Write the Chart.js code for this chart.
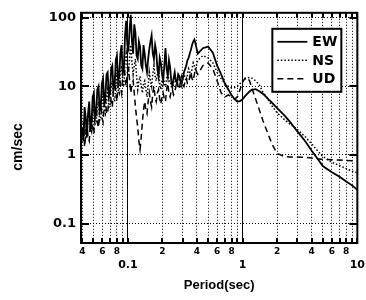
<!DOCTYPE html>
<html>
<head>
<meta charset="utf-8">
<script src="https://cdn.jsdelivr.net/npm/chart.js@4.4.0/dist/chart.umd.min.js"></script>
<style>
  html, body { margin: 0; padding: 0; background: #fff; }
</style>
</head>
<body>
<canvas id="spectrum" width="366" height="300"></canvas>
<script>
// Periods (sec) shared by the three components
const periods = [
  0.04, 0.041, 0.0419, 0.0429, 0.0439, 0.0449, 0.046, 0.0471, 0.0482, 0.0493,
  0.0505, 0.0517, 0.0529, 0.0541, 0.0554, 0.0567, 0.058, 0.0593, 0.0607, 0.0621,
  0.0636, 0.0651, 0.0666, 0.0682, 0.0698, 0.0714, 0.0731, 0.0748, 0.0766, 0.0784,
  0.0802, 0.0821, 0.084, 0.086, 0.088, 0.0901, 0.0922, 0.0944, 0.0966, 0.0989,
  0.1012, 0.1036, 0.106, 0.1085, 0.111, 0.1136, 0.1163, 0.119, 0.1218, 0.1247,
  0.1276, 0.1306, 0.1337, 0.1368, 0.14, 0.1433, 0.1467, 0.1501, 0.1536, 0.1572,
  0.1609, 0.1647, 0.1686, 0.1726, 0.1766, 0.1808, 0.185, 0.1893, 0.1937, 0.1982,
  0.2029, 0.2077, 0.2126, 0.2176, 0.2227, 0.2279, 0.2332, 0.2387, 0.2443, 0.25,
  0.2559, 0.2619, 0.2681, 0.2744, 0.2808, 0.2874, 0.2941, 0.301, 0.3081, 0.3153,
  0.3228, 0.3304, 0.3381, 0.346, 0.3541, 0.3624, 0.371, 0.3797, 0.3886, 0.3977,
  0.407,
  0.45, 0.5, 0.55, 0.6, 0.65, 0.7, 0.75, 0.8, 0.85,
  0.9, 0.95, 1.0, 1.05, 1.1, 1.15, 1.2, 1.3, 1.4, 1.5,
  1.6, 1.8, 2.0, 2.3, 2.6, 3.0, 3.5, 4.0, 4.5, 5.0,
  6.0, 7.0, 8.0, 9.0, 10
];

// Velocity response (cm/sec)
const ew = [
  2.5, 1.6, 5, 3.5, 1.8, 4, 6, 2.2, 3, 7,
  8, 3.5, 4, 9, 10, 4.5, 5, 11, 13, 6,
  7, 15, 16, 7, 8, 18, 20, 9, 10, 24,
  28, 12, 14, 30, 40, 16, 18, 55, 90, 40,
  35, 70, 110, 45, 30, 80, 60, 28, 25, 45,
  38, 20, 18, 40, 30, 20, 16, 25, 35, 45,
  55, 30, 25, 40, 32, 18, 14, 26, 22, 15,
  12, 20, 36, 18, 14, 24, 19, 12, 10, 13,
  16, 12, 11, 15, 14, 12, 11, 13, 16, 18,
  20, 24, 26, 30, 34, 40, 45, 48, 42, 35,
  30,
  36, 38, 31, 20, 15, 11, 9, 7.5, 6.5,
  6, 6.1, 6.5, 7.2, 7.8, 8.4, 8.9, 9.1, 8.5, 7.8,
  7, 5.8, 4.8, 3.8, 3, 2.2, 1.6, 1.15, 0.88, 0.69,
  0.56, 0.48, 0.41, 0.36, 0.31
];
const ns = [
  1.5, 2.5, 3, 1.8, 2, 3.5, 4, 2.5, 2.2, 4,
  5, 2.8, 3, 5, 6, 3.2, 3.5, 7, 8, 4.5,
  4, 7, 9, 5, 5, 10, 12, 7, 6, 11,
  14, 9, 8, 16, 20, 12, 10, 22, 30, 18,
  14, 28, 40, 22, 15, 20, 25, 14, 9, 12,
  14, 10, 8, 11, 12, 9, 7, 10, 16, 12,
  10, 15, 20, 14, 12, 15, 18, 11, 9, 12,
  14, 11, 10, 13, 15, 12, 12, 10, 9, 11,
  14, 12, 11, 14, 13, 11, 10, 13, 15, 13,
  12, 15, 18, 16, 14, 18, 22, 20, 17, 21,
  24,
  28, 26, 22, 16, 13, 11, 10, 9.5, 9.6,
  10, 11, 12, 12.8, 13.3, 13.5, 13.2, 12, 10.5, 8.3,
  7.2, 5.2, 4.1, 3.3, 2.8, 2.35, 1.85, 1.45, 1.15, 0.95,
  0.78, 0.7, 0.63, 0.58, 0.55
];
const ud = [
  2, 3, 1.3, 2, 3, 1.8, 1.6, 3, 4, 2.5,
  2, 4, 5, 3, 2.5, 4.5, 6, 3.5, 3, 5,
  7, 4, 4, 7, 9, 6, 5, 9, 12, 8,
  6, 10, 15, 10, 8, 14, 22, 14, 10, 16,
  18, 12, 8, 11, 12, 8, 5, 3.5, 2.5, 1.6,
  1.2, 1.8, 3, 4.5, 6, 4.5, 4, 6, 8, 6,
  5, 8, 10, 7, 6, 8, 9, 6.5, 5.5, 7,
  8, 6.5, 6, 9, 11, 8, 7, 8.5, 9, 7.5,
  8, 10, 12, 10, 9, 12, 14, 11, 10, 12,
  13, 11, 11, 14, 16, 13, 12, 15, 18, 16,
  15,
  20, 22, 18, 12, 8, 7, 7.5, 7, 6.5,
  7, 9, 11.5, 13.2, 13.5, 12, 9.5, 6.5, 4.5, 3.2,
  2.4, 1.45, 1.05, 0.95, 0.93, 0.93, 0.92, 0.9, 0.88, 0.86,
  0.85, 0.84, 0.83, 0.82, 0.82
];

// Axis ticks and labels
const xGrid = [0.04, 0.05, 0.06, 0.07, 0.08, 0.09, 0.1, 0.2, 0.3, 0.4, 0.5, 0.6, 0.7, 0.8, 0.9,
  1, 2, 3, 4, 5, 6, 7, 8, 9, 10];
const xMinorLabels = ['4', '', '6', '', '8', '', '', '2', '', '4', '', '6', '', '8', '',
  '', '2', '', '4', '', '6', '', '8', '', ''];
const xMajor = [0.1, 1, 10];
const xMajorLabels = ['0.1', '1', '10'];
const yGrid = [0.1, 1, 10, 100];
const yLabels = ['0.1', '1', '10', '100'];

const toPoints = (serie) => periods.map((p, i) => ({ x: p, y: serie[i] }));

const tickFont = "'DejaVu Sans', sans-serif";
const textFont = "'Liberation Sans', Arial, sans-serif";

// Frame, inward ticks, legend box and y title
const framePlugin = {
  id: 'frame',
  afterDatasetsDraw(chart) {
    const { ctx, chartArea: a, scales } = chart;
    ctx.save();
    ctx.strokeStyle = '#000';
    ctx.lineWidth = 2;
    ctx.setLineDash([]);
    ctx.beginPath();
    xGrid.forEach((v) => {
      const px = Math.round(scales.x.getPixelForValue(v));
      ctx.moveTo(px, a.bottom); ctx.lineTo(px, a.bottom - 5);
      ctx.moveTo(px, a.top); ctx.lineTo(px, a.top + 5);
    });
    yGrid.forEach((v) => {
      const py = Math.round(scales.y.getPixelForValue(v));
      ctx.moveTo(a.left, py); ctx.lineTo(a.left + 8, py);
      ctx.moveTo(a.right, py); ctx.lineTo(a.right - 8, py);
    });
    ctx.stroke();
    ctx.strokeRect(a.left, a.top, a.right - a.left, a.bottom - a.top);

    // legend
    const lx = a.right - 85, ly = a.top + 16, lw = 69, lh = 63;
    ctx.fillStyle = '#fff';
    ctx.fillRect(lx, ly, lw, lh);
    ctx.strokeRect(lx, ly, lw, lh);
    ctx.font = "bold 14px " + tickFont;
    ctx.fillStyle = '#000';
    ctx.textBaseline = 'middle';
    ctx.textAlign = 'left';
    chart.data.datasets.forEach((ds, i) => {
      const yy = ly + 13 + i * 18.5;
      ctx.lineWidth = ds.borderWidth;
      ctx.setLineDash(ds.borderDash || []);
      ctx.beginPath();
      ctx.moveTo(lx + 5, yy); ctx.lineTo(lx + 35, yy);
      ctx.stroke();
      ctx.fillText(ds.label, lx + 40, yy + 1);
    });
    ctx.setLineDash([]);

    // y title
    ctx.translate(18, 147);
    ctx.rotate(-Math.PI / 2);
    ctx.textAlign = 'center';
    ctx.font = "bold 14px " + textFont;
    ctx.fillText('cm/sec', 0, 0);
    ctx.restore();
  }
};

new Chart(document.getElementById('spectrum'), {
  type: 'scatter',
  data: {
    datasets: [
      { label: 'EW', data: toPoints(ew), showLine: true, borderColor: '#000', borderWidth: 1.8, pointRadius: 0 },
      { label: 'NS', data: toPoints(ns), showLine: true, borderColor: '#000', borderWidth: 1.5, borderDash: [1.5, 2], pointRadius: 0 },
      { label: 'UD', data: toPoints(ud), showLine: true, borderColor: '#000', borderWidth: 1.5, borderDash: [6, 4], pointRadius: 0 }
    ]
  },
  options: {
    responsive: false,
    animation: false,
    layout: { padding: { top: 9, right: 8, left: 0, bottom: 0 } },
    plugins: { legend: { display: false }, tooltip: { enabled: false } },
    scales: {
      x: {
        type: 'logarithmic',
        position: 'bottom',
        weight: 0,
        min: 0.039,
        max: 10,
        afterBuildTicks: (s) => { s.ticks = xGrid.map((v) => ({ value: v })); },
        afterFit: (s) => { s.height = 15; },
        ticks: {
          autoSkip: false, maxRotation: 0, padding: 3, color: '#000',
          font: { family: tickFont, size: 9, weight: 'bold' },
          callback: (v, i) => xMinorLabels[i]
        },
        grid: { color: '#000', lineWidth: 1, drawTicks: false },
        border: { display: false, dash: (c) => (c.tick && xMajor.includes(c.tick.value)) ? [] : [1, 2] }
      },
      x2: {
        type: 'logarithmic',
        position: 'bottom',
        weight: 1,
        min: 0.039,
        max: 10,
        afterBuildTicks: (s) => { s.ticks = xMajor.map((v) => ({ value: v })); },
        afterFit: (s) => { s.height = 42; },
        ticks: {
          autoSkip: false, maxRotation: 0, padding: 1, color: '#000',
          font: { family: tickFont, size: 11, weight: 'bold' },
          callback: (v, i) => xMajorLabels[i]
        },
        grid: { display: false, drawTicks: false },
        border: { display: false },
        title: {
          display: true, text: 'Period(sec)', color: '#000',
          font: { family: textFont, size: 13, weight: 'bold' },
          padding: { top: 0, bottom: 7 }
        }
      },
      y: {
        type: 'logarithmic',
        min: 0.052,
        max: 118,
        afterBuildTicks: (s) => { s.ticks = yGrid.map((v) => ({ value: v })); },
        afterFit: (s) => { s.width = 81; },
        ticks: {
          padding: 5, color: '#000',
          font: { family: tickFont, size: 13, weight: 'bold' },
          callback: (v, i) => yLabels[i]
        },
        grid: { color: '#000', lineWidth: 1, drawTicks: false },
        border: { display: false, dash: [1, 2] }
      }
    }
  },
  plugins: [framePlugin]
});
</script>
</body>
</html>
